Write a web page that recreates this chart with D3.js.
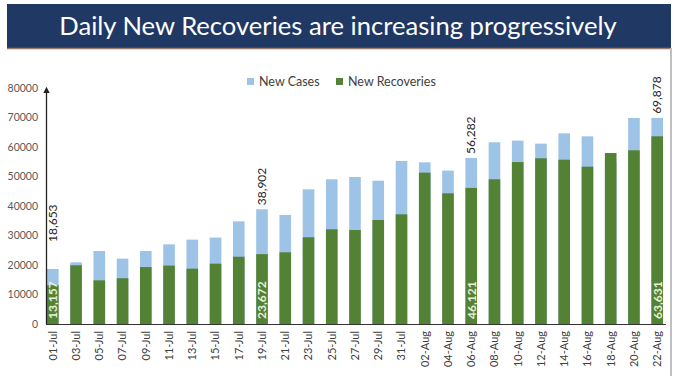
<!DOCTYPE html>
<html>
<head>
<meta charset="utf-8">
<script src="https://cdn.jsdelivr.net/npm/d3@7/dist/d3.min.js"></script>
<style>
  html, body { margin: 0; padding: 0; background: #fff; }
  svg { display: block; font-family: Lato, "Open Sans", sans-serif; }
</style>
</head>
<body>
<div id="chart"></div>
<script>
const title = 'Daily New Recoveries are increasing progressively';

const dates = ['01-Jul', '03-Jul', '05-Jul', '07-Jul', '09-Jul', '11-Jul', '13-Jul', '15-Jul', '17-Jul',
  '19-Jul', '21-Jul', '23-Jul', '25-Jul', '27-Jul', '29-Jul', '31-Jul', '02-Aug', '04-Aug', '06-Aug',
  '08-Aug', '10-Aug', '12-Aug', '14-Aug', '16-Aug', '18-Aug', '20-Aug', '22-Aug'];

const newCases = [18653, 20900, 24750, 22150, 24750, 27000, 28600, 29300, 34800, 38902, 36950, 45650,
  49050, 49830, 48580, 55250, 54800, 52000, 56282, 61600, 62150, 61130, 64630, 63620, 55080, 69830, 69878];

const newRecoveries = [13157, 19900, 14800, 15500, 19300, 19800, 18750, 20450, 22800, 23672, 24300, 29400,
  32100, 31860, 35250, 37180, 51300, 44300, 46121, 49050, 54900, 56170, 55700, 53330, 57970, 58880, 63631];

const yTicks = [0, 10000, 20000, 30000, 40000, 50000, 60000, 70000, 80000];
const labelledDates = ['01-Jul', '19-Jul', '06-Aug', '22-Aug'];
const seriesNames = ['New Cases', 'New Recoveries'];

const colors = { cases: '#9dc3e6', recoveries: '#548235' };

const width = 680, height = 376;
const svg = d3.select('#chart').append('svg')
  .attr('width', width).attr('height', height);

// banner
svg.append('rect').attr('x', 7).attr('y', 4).attr('width', 664).attr('height', 44).attr('fill', '#203864');
svg.append('line').attr('x1', 7).attr('x2', 671).attr('y1', 48.5).attr('y2', 48.5)
  .attr('stroke', '#9a7a6a').attr('stroke-width', 1.5);
svg.append('line').attr('x1', 671).attr('x2', 671).attr('y1', 48).attr('y2', height)
  .attr('stroke', '#c0c0c0').attr('stroke-width', 2);
svg.append('text').attr('x', 338).attr('y', 35).attr('text-anchor', 'middle')
  .attr('fill', '#fff').attr('font-size', 25.6).text(title);

const x = d3.scaleBand().domain(dates).range([47, 663]).paddingInner(0.5).paddingOuter(0);
const y = d3.scaleLinear().domain([0, 80000]).range([324, 88]);

// y axis labels
const yAxis = svg.append('g').attr('transform', 'translate(38,0)')
  .call(d3.axisLeft(y).tickValues(yTicks).tickSize(0).tickPadding(0).tickFormat(d3.format('d')));
yAxis.select('.domain').remove();
yAxis.selectAll('text').attr('font-family', 'Lato, sans-serif').attr('font-size', 10.5).attr('fill', '#595959');

// bars
const rows = dates.map((d, i) => ({ date: d, cases: newCases[i], rec: newRecoveries[i] }));
svg.append('g').selectAll('rect').data(rows).join('rect')
  .attr('x', d => x(d.date)).attr('width', x.bandwidth())
  .attr('y', d => y(d.cases)).attr('height', d => y(0) - y(d.cases))
  .attr('fill', colors.cases);
svg.append('g').selectAll('rect').data(rows).join('rect')
  .attr('x', d => x(d.date)).attr('width', x.bandwidth())
  .attr('y', d => y(d.rec)).attr('height', d => y(0) - y(d.rec))
  .attr('fill', colors.recoveries);

// axes lines
svg.append('defs').append('marker').attr('id', 'arrow')
  .attr('viewBox', '0 0 10 10').attr('refX', 5).attr('refY', 5)
  .attr('markerWidth', 5).attr('markerHeight', 6).attr('orient', 'auto-start-reverse')
  .append('path').attr('d', 'M0,0L10,5L0,10z').attr('fill', '#222');
svg.append('line').attr('x1', 46.5).attr('x2', 46.5).attr('y1', y(0)).attr('y2', 90)
  .attr('stroke', '#222').attr('stroke-width', 1.3).attr('marker-end', 'url(#arrow)');
svg.append('line').attr('x1', 46).attr('x2', 666).attr('y1', y(0) + 0.5).attr('y2', y(0) + 0.5)
  .attr('stroke', '#333').attr('stroke-width', 1.2);

// x labels
svg.append('g').selectAll('text').data(dates).join('text')
  .attr('transform', d => `translate(${x(d) + x.bandwidth() / 2},331) rotate(-90)`)
  .attr('text-anchor', 'end').attr('dy', '0.35em')
  .attr('font-size', 11).attr('fill', '#404040').text(d => d);

// value labels
const fmt = d3.format(',');
const labelled = rows.filter(d => labelledDates.includes(d.date));
svg.append('g').selectAll('text').data(labelled).join('text')
  .attr('transform', d => {
    const lift = d.date === '01-Jul' ? 27 : 4;
    return `translate(${x(d.date) + x.bandwidth() / 2},${y(d.cases) - lift}) rotate(-90)`;
  })
  .attr('dy', '0.35em').attr('font-size', 12).attr('fill', '#262626').text(d => fmt(d.cases));
svg.append('g').selectAll('text').data(labelled).join('text')
  .attr('transform', d => `translate(${x(d.date) + x.bandwidth() / 2},${y(0) - 5}) rotate(-90)`)
  .attr('dy', '0.36em').attr('font-size', 12).attr('font-weight', 'bold')
  .attr('fill', '#e6f2dc').text(d => fmt(d.rec));

// legend
const legend = svg.append('g').attr('transform', 'translate(247,78)');
const lx = [0, 89];
seriesNames.forEach((name, i) => {
  const g = legend.append('g').attr('transform', `translate(${lx[i]},0)`);
  g.append('rect').attr('width', 7).attr('height', 7)
    .attr('fill', i === 0 ? colors.cases : colors.recoveries);
  g.append('text').attr('x', 12).attr('y', 4).attr('dy', '0.35em')
    .attr('font-size', 12.5).attr('fill', '#404040').text(name);
});
</script>
</body>
</html>
